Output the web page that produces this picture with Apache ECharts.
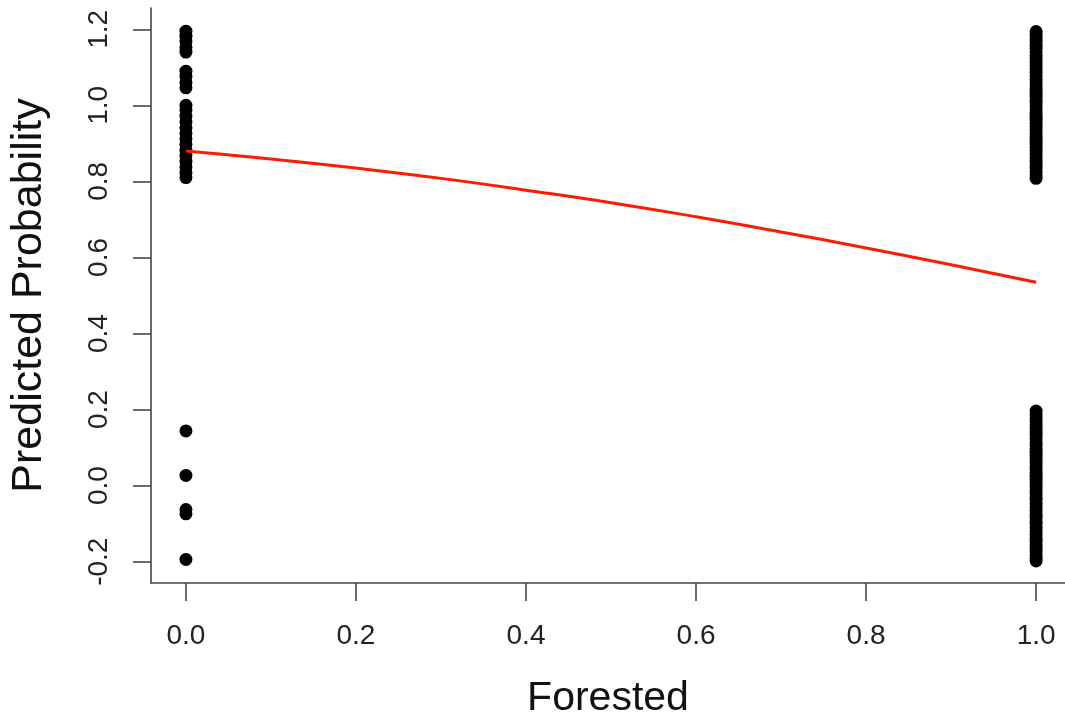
<!DOCTYPE html>
<html>
<head>
<meta charset="utf-8">
<script src="https://cdn.jsdelivr.net/npm/echarts@6/dist/echarts.min.js"></script>
<style>
html,body{margin:0;padding:0;background:#fff;}
#chart{width:1065px;height:725px;}
</style>
</head>
<body>
<div id="chart"></div>
<script>
// Tick labels
var xTicks = [0.0, 0.2, 0.4, 0.6, 0.8, 1.0];
var yTicks = [-0.2, 0.0, 0.2, 0.4, 0.6, 0.8, 1.0, 1.2];

// Jittered observations at Forested = 0
var forested0Y = [1.195, 1.182, 1.168, 1.152, 1.140,
                  1.090, 1.076, 1.060, 1.046,
                  1.000, 0.988, 0.972, 0.957, 0.941, 0.926, 0.912, 0.897, 0.882,
                  0.868, 0.853, 0.838, 0.823, 0.810,
                  0.144, 0.027, -0.063, -0.074, -0.194];

// Jittered observations at Forested = 1
var forested1Y = [1.194, 1.185, 1.176, 1.168, 1.158, 1.150, 1.141, 1.131, 1.123, 1.113,
                  1.104, 1.096, 1.087, 1.078, 1.068, 1.059, 1.051, 1.042, 1.032, 1.024,
                  1.015, 1.006, 0.997, 0.988, 0.979, 0.969, 0.961, 0.952, 0.943, 0.934,
                  0.925, 0.916, 0.906, 0.898, 0.889, 0.880, 0.871, 0.862, 0.853, 0.844,
                  0.835, 0.826, 0.817, 0.808,
                  0.196, 0.187, 0.178, 0.169, 0.160, 0.151, 0.142, 0.133, 0.124, 0.115,
                  0.106, 0.097, 0.088, 0.079, 0.070, 0.061, 0.052, 0.043, 0.034, 0.025,
                  0.016, 0.007, -0.002, -0.011, -0.020, -0.029, -0.038, -0.047, -0.056, -0.065,
                  -0.074, -0.083, -0.092, -0.101, -0.110, -0.119, -0.128, -0.137, -0.146, -0.155,
                  -0.164, -0.173, -0.182, -0.191, -0.198];

// Fitted predicted probability curve
var curveX = [0.0, 0.1, 0.2, 0.3, 0.4, 0.5, 0.6, 0.7, 0.8, 0.9, 1.0];
var curveY = [0.880, 0.859, 0.835, 0.808, 0.777, 0.744, 0.707, 0.667, 0.625, 0.581, 0.535];

var pts = [];
forested0Y.forEach(function (v) { pts.push([0, v]); });
forested1Y.forEach(function (v) { pts.push([1, v]); });
var curve = curveX.map(function (x, i) { return [x, curveY[i]]; });

var FONT = '"Liberation Sans", Arial, Helvetica, sans-serif';
var LINE = '#444';

var chart = echarts.init(document.getElementById('chart'), null, {renderer: 'canvas'});
chart.setOption({
  animation: false,
  backgroundColor: '#ffffff',
  grid: {left: 150, right: 0, top: 8, bottom: 142, containLabel: false},
  xAxis: {
    type: 'value',
    min: -0.0411, max: 1.034,
    name: 'Forested',
    nameLocation: 'middle',
    nameGap: 95,
    nameTextStyle: {fontFamily: FONT, fontSize: 41, color: '#111'},
    axisLine: {show: true, onZero: false, lineStyle: {color: LINE, width: 1.6}},
    axisTick: {show: true, length: 18, customValues: xTicks, lineStyle: {color: LINE, width: 1.6}},
    axisLabel: {show: true, customValues: xTicks, margin: 39, fontFamily: FONT, fontSize: 28, color: '#222',
      formatter: function (v) { return v.toFixed(1); }},
    splitLine: {show: false}
  },
  yAxis: {
    type: 'value',
    min: -0.256, max: 1.256,
    name: 'Predicted Probability',
    nameLocation: 'middle',
    nameGap: 100,
    nameTextStyle: {fontFamily: FONT, fontSize: 43, color: '#111'},
    axisLine: {show: true, onZero: false, lineStyle: {color: LINE, width: 1.6}},
    axisTick: {show: true, length: 18, customValues: yTicks, lineStyle: {color: LINE, width: 1.6}},
    axisLabel: {show: true, customValues: yTicks, rotate: 90, margin: 38, fontFamily: FONT, fontSize: 28, color: '#222',
      formatter: function (v) { return v.toFixed(1); }},
    splitLine: {show: false}
  },
  series: [
    {
      type: 'scatter',
      data: pts,
      symbol: 'circle',
      symbolSize: 13,
      itemStyle: {color: '#000', opacity: 1},
      z: 2
    },
    {
      type: 'line',
      data: curve,
      smooth: true,
      showSymbol: false,
      symbol: 'none',
      lineStyle: {color: '#ff1a00', width: 3},
      z: 3
    }
  ]
});
</script>
</body>
</html>
